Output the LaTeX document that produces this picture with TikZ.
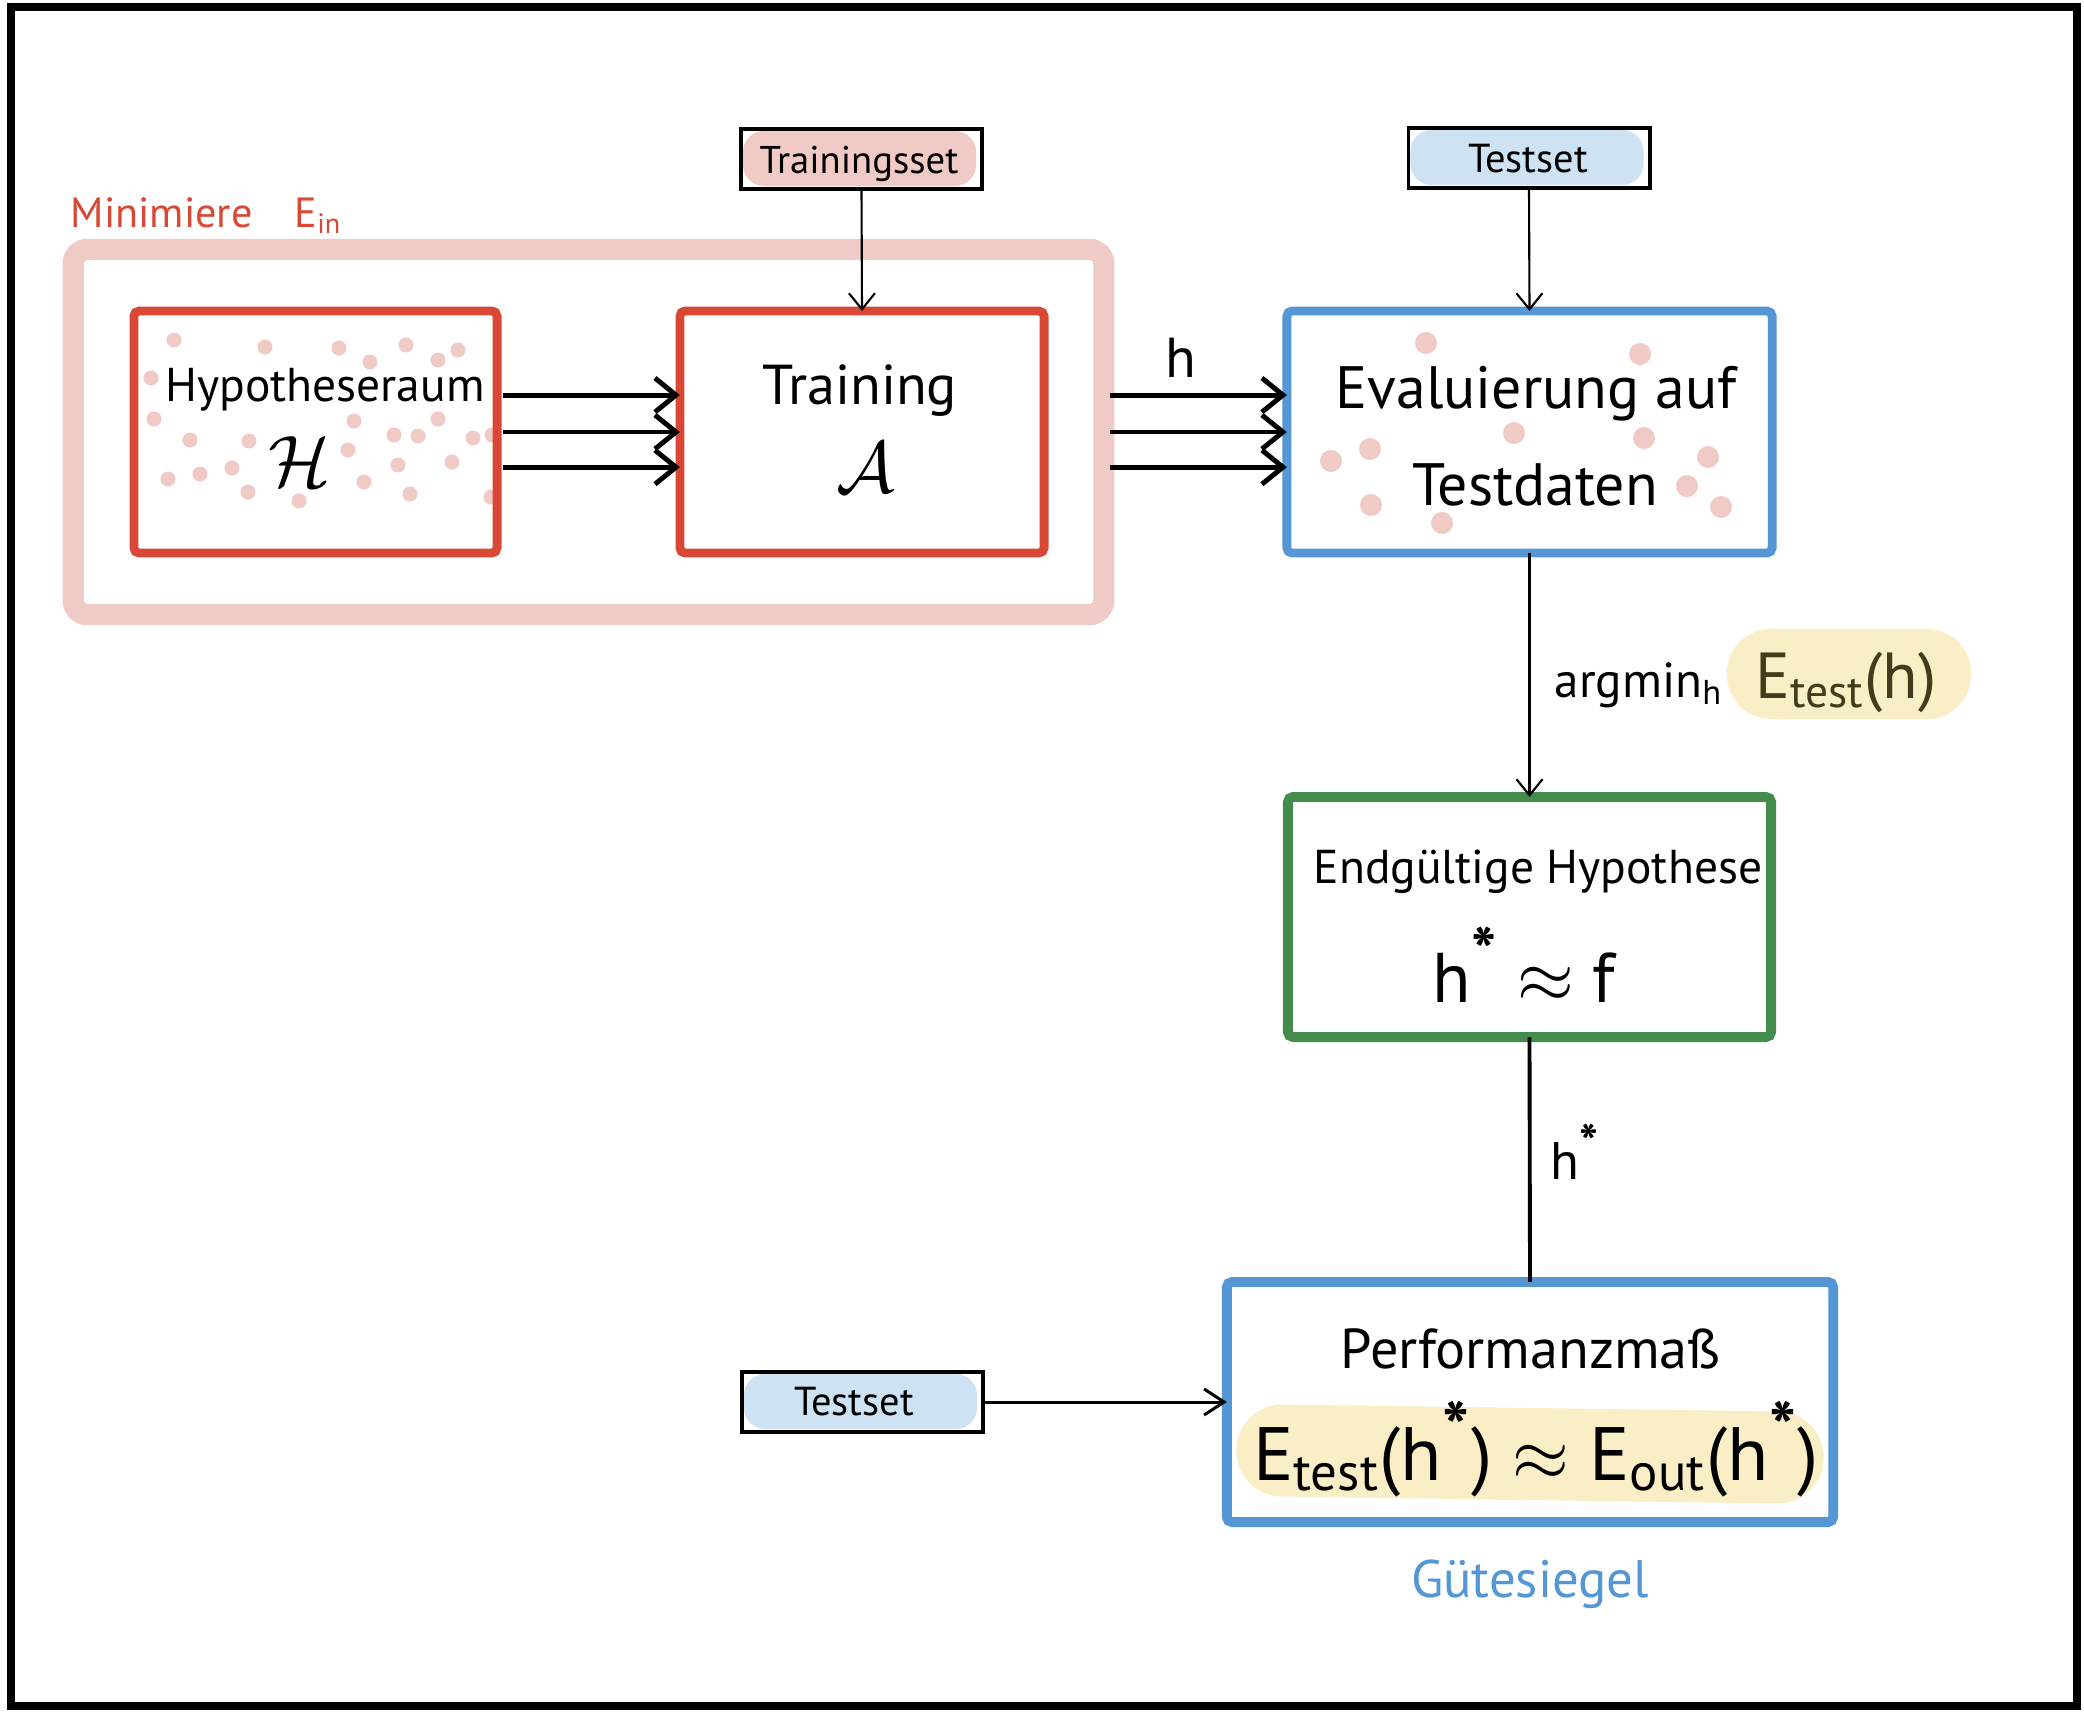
\documentclass[tikz,border=0pt]{standalone}
\usepackage{fontspec}
\setmainfont{PT Sans}
\usetikzlibrary{arrows.meta}
\pgfdeclarelayer{background}
\pgfsetlayers{background,main}
\definecolor{cred}{RGB}{217,72,52}
\definecolor{cpink}{RGB}{240,202,197}
\definecolor{cblue}{RGB}{84,151,212}
\definecolor{cgreen}{RGB}{68,140,76}
\definecolor{clblue}{RGB}{205,226,243}
\definecolor{cyellow}{RGB}{250,238,198}
\definecolor{colive}{RGB}{68,58,28}
\newcommand\bigast{\textsuperscript{\bfseries\scalebox{1.35}{*}}}
\begin{document}
\begin{tikzpicture}[x=0.01cm,y=-0.01cm,
  bigbox/.style={line width=2.5pt, inner sep=0pt, outer sep=0pt, rounded corners=1.5pt, minimum height=2.42cm},
  tagbox/.style={draw=black, line width=1.1pt, inner sep=0pt, outer sep=0pt, minimum width=2.41cm, minimum height=0.6cm},
  lbl/.style={anchor=base, inner sep=0pt},
  thinarrow/.style={line width=0.6pt, -{Straight Barb[length=1.6mm,width=2.6mm]}},
  thickarrow/.style={line width=1.4pt, -{Straight Barb[length=2.1mm,width=3.4mm]}, shorten <=1.7pt},
  fsz/.style={font=\fontsize{#1}{#1}\selectfont}
]
\useasboundingbox (0,0) rectangle (2084,1715);
\draw[line width=2.4pt] (11,7) rectangle (2077,1706);

% minimise region
\node[draw=cpink, line width=6pt, rounded corners=4pt, inner sep=0pt, outer sep=0pt, minimum width=10.30cm, minimum height=3.65cm] (minbox) at (588.5,432) {};
\node[lbl, anchor=base west, text=cred, fsz=12pt] (minlbl) at (70,227) {Minimiere\hspace{12pt}E\textsubscript{in}};

% main boxes
\node[bigbox, draw=cred, minimum width=3.63cm] (hypo) at (315.5,432) {};
\node[bigbox, draw=cred, minimum width=3.64cm] (train) at (862,432) {};
\node[bigbox, draw=cblue, minimum width=4.85cm] (eval) at (1529.5,432) {};
\node[bigbox, draw=cgreen, line width=2.8pt, minimum width=4.83cm, minimum height=2.40cm] (final) at (1529.5,917) {};
\node[bigbox, draw=cblue, line width=2.8pt, minimum width=6.06cm, minimum height=2.40cm] (perf) at (1530,1402) {};

% tag boxes
\node[tagbox] (tset) at (861.5,159) {};
\node[tagbox] (tsttop) at (1529,158) {};
\node[tagbox] (tstbot) at (862.5,1402) {};

\begin{pgfonlayer}{background}
  \fill[white] (0,0) rectangle (2084,1715);
  \fill[cpink, rounded corners=6pt] ([shift={(2,2)}]tset.north west) rectangle ([shift={(-6,-3)}]tset.south east);
  \fill[clblue, rounded corners=6pt] ([shift={(2,2)}]tsttop.north west) rectangle ([shift={(-6,-3)}]tsttop.south east);
  \fill[clblue, rounded corners=6pt] ([shift={(2,2)}]tstbot.north west) rectangle ([shift={(-6,-3)}]tstbot.south east);
  % dots in hypothesis space
  \foreach \p in {(174,340),(265,347),(339,348),(406,345),(458,350),(370,362),(438,360),(151,378),
                  (154,419),(190,440),(249,441),(354,421),(394,435),(418,436),(438,419),(473,438),(492,435),
                  (168,479),(200,474),(232,468),(248,492),(299,501),(348,450),(364,482),(398,465),(410,494),
                  (452,462),(491,497)}
    \fill[cpink] \p circle[radius=0.075cm];
  % dots in evaluation box
  \foreach \p in {(1426,343),(1640,354),(1514,433),(1644,438),(1708,457),(1331,461),(1370,449),
                  (1371,505),(1442,523),(1687,486),(1721,507)}
    \fill[cpink] \p circle[radius=0.11cm];
\end{pgfonlayer}

% texts in tags
\node[lbl, fsz=11pt] (tsettxt) at (859,173) {Trainingsset};
\node[lbl, fsz=11.5pt] (tsttoptxt) at (1528,172) {Testset};
\node[lbl, fsz=11.5pt] (tstbottxt) at (854,1415) {Testset};

% texts in boxes
\node[lbl, fsz=13.5pt] (hypotxt) at (325,401) {Hypotheseraum};
\node[inner sep=0pt, fsz=20pt] (hypoH) at (300,462) {$\mathcal{H}$};
\node[lbl, fsz=16pt] (traintxt) at (860,404) {Training};
\node[inner sep=0pt, fsz=20pt] (trainA) at (866,468) {$\mathcal{A}$};
\node[lbl, fsz=17pt] (evaltxt1) at (1536,408) {Evaluierung auf};
\node[lbl, fsz=17pt] (evaltxt2) at (1535,505) {Testdaten};
\node[lbl, fsz=13.5pt] (finaltxt1) at (1538,883) {Endgültige Hypothese};
\node[lbl, fsz=20pt] (finaltxt2) at (1524,1002) {h\bigast{} $\approx$ f};
\node[lbl, fsz=16pt] (perftxt) at (1531,1368) {Performanzmaß};
\node[fill=cyellow, rounded corners=13pt, inner sep=0pt, minimum width=5.87cm, minimum height=0.92cm, rotate=-0.8] (band) at (1530,1454) {};
\node[lbl, fsz=21.5pt] (perfform) at (1536,1480) {E\textsubscript{test}(h\bigast) $\approx$ E\textsubscript{out}(h\bigast)};
\node[lbl, text=cblue, fsz=15pt] (guete) at (1530,1597) {Gütesiegel};

% pill with E_test(h)
\node[fill=cyellow, rounded corners=12.5pt, inner sep=0pt, minimum width=2.44cm, minimum height=0.9cm] (pill) at (1849,674) {};
\node[lbl, text=colive, fsz=18.5pt] (pilltxt) at (1846,698) {E\textsubscript{test}(h)};

% connector labels
\node[lbl, fsz=16pt] (hlbl) at (1181,377) {h};
\node[lbl, anchor=base west, fsz=14pt] (argmin) at (1554,697) {argmin\textsubscript{h}};
\node[lbl, anchor=base west, fsz=15pt] (hstar) at (1550,1179) {h\bigast};

% connectors
\draw[thinarrow] (tset.south) -- (train.north);
\draw[thinarrow] (tsttop.south) -- (eval.north);
\draw[thinarrow] (eval.south) -- (final.north);
\draw[line width=1.1pt] (final.south) -- (perf.north);
\draw[line width=0.85pt, -{Straight Barb[length=2mm,width=2.6mm]}] (tstbot.east) -- (perf.west);

\foreach \s in {10.5pt,0pt,-10pt}{
  \draw[thickarrow] ([yshift=\s]hypo.east) -- ([yshift=\s]train.west);
  \draw[thickarrow] ([yshift=\s]minbox.east) -- ([yshift=\s]eval.west);
}
\end{tikzpicture}
\end{document}
